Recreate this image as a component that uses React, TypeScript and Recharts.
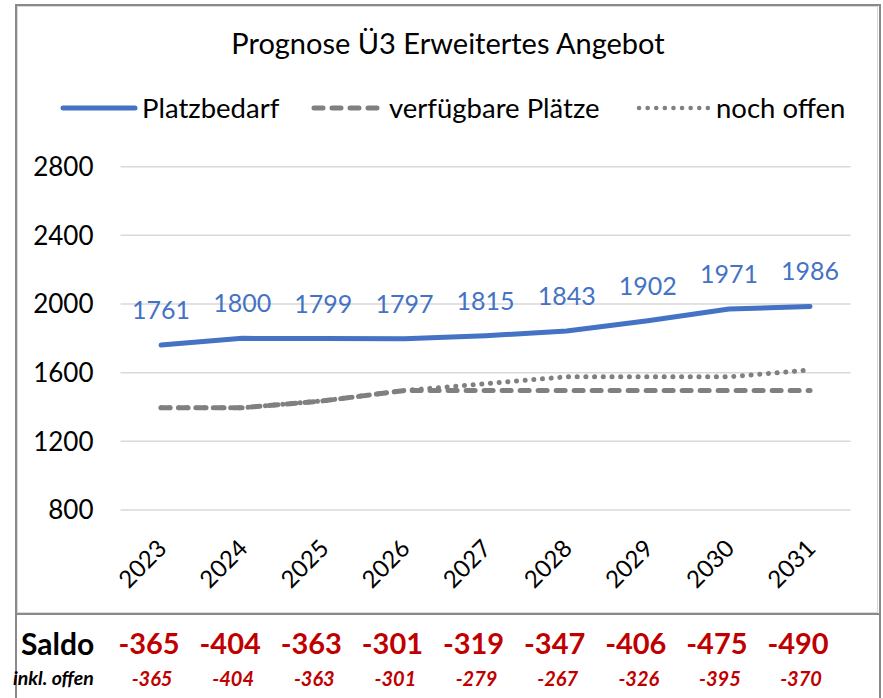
import { LineChart, Line, XAxis, YAxis, CartesianGrid, LabelList } from "recharts";

const years = ["2023", "2024", "2025", "2026", "2027", "2028", "2029", "2030", "2031"];
const platzbedarf = [1761, 1800, 1799, 1797, 1815, 1843, 1902, 1971, 1986];
const verfuegbar = [1396, 1396, 1436, 1496, 1496, 1496, 1496, 1496, 1496];
const nochOffen = [1396, 1396, 1436, 1496, 1536, 1576, 1576, 1576, 1616];
const saldo = [-365, -404, -363, -301, -319, -347, -406, -475, -490];
const saldoOffen = [-365, -404, -363, -301, -279, -267, -326, -395, -370];
const yTicks = [800, 1200, 1600, 2000, 2400, 2800];

const data = years.map((year, i) => ({
  year,
  bedarf: platzbedarf[i],
  plaetze: verfuegbar[i],
  offen: nochOffen[i],
}));

const BLUE = "#4472C4";
const GRAY = "#808080";
const RED = "#C00000";
const FONT = "Lato, 'Open Sans', sans-serif";

// plot box in page pixels
const PLOT_LEFT = 120.5;
const PLOT_RIGHT = 850.6;
const step = (PLOT_RIGHT - PLOT_LEFT) / years.length;
const colX = (i: number) => PLOT_LEFT + step * (i + 0.5);

function YearTick(props: any) {
  const { x, y, payload } = props;
  const ax = x + 7;
  const ay = y + 32;
  return (
    <text x={ax} y={ay} fill="#000" fontSize={24} textAnchor="end" transform={`rotate(-45, ${ax}, ${ay})`}>
      {payload.value}
    </text>
  );
}

function LegendItem({ kind, label, left, width }: { kind: string; label: string; left: number; width: number }) {
  const dash = kind === "dash" ? "9 9" : kind === "dot" ? "0.1 8.5" : undefined;
  return (
    <div style={{ position: "absolute", left, top: 91, display: "flex", alignItems: "center" }}>
      <svg width={width} height={30}>
        <line
          x1={3}
          x2={width - 3}
          y1={15}
          y2={15}
          stroke={kind === "solid" ? BLUE : GRAY}
          strokeWidth={kind === "dot" ? 4.5 : 5}
          strokeDasharray={dash}
          strokeLinecap="round"
        />
      </svg>
      <span style={{ fontSize: 27.5, marginLeft: 4, color: "#000" }}>{label}</span>
    </div>
  );
}

export default function App() {
  return (
    <div style={{ position: "absolute", left: 0, top: 0, width: 883, height: 698, background: "#fff", fontFamily: FONT, overflow: "hidden" }}>
      {/* outer frame */}
      <div style={{ position: "absolute", left: 15, top: 4, width: 862, height: 720, borderLeft: "2px solid #8a8a8a", borderRight: "2px solid #8a8a8a", borderTop: "2px solid #8a8a8a" }} />
      <div style={{ position: "absolute", left: 17, top: 6, width: 861, height: 607, border: "1px solid #d9d9d9", boxSizing: "border-box" }} />
      <div style={{ position: "absolute", left: 15, top: 613, width: 866, height: 2, background: "#8a8a8a" }} />

      <div style={{ position: "absolute", left: 0, width: 896, top: 25, textAlign: "center", fontSize: 29, color: "#000" }}>
        Prognose Ü3 Erweitertes Angebot
      </div>

      <LegendItem kind="solid" label="Platzbedarf" left={60} width={78} />
      <LegendItem kind="dash" label="verfügbare Plätze" left={311} width={74} />
      <LegendItem kind="dot" label="noch offen" left={636} width={76} />

      <div style={{ position: "absolute", left: 0, top: 0 }}>
        <LineChart width={883} height={698} data={data} margin={{ top: 166.7, right: 883 - PLOT_RIGHT, bottom: 128, left: 0 }}>
          <CartesianGrid vertical={false} stroke="#d9d9d9" strokeWidth={1.5} />
          <XAxis
            dataKey="year"
            axisLine={false}
            tickLine={false}
            tick={<YearTick />}
            interval={0}
            height={60}
            padding={{ left: step / 2, right: step / 2 }}
          />
          <YAxis
            width={PLOT_LEFT}
            domain={[800, 2800]}
            ticks={yTicks}
            axisLine={false}
            tickLine={false}
            tickMargin={21}
            tick={{ fill: "#000", fontSize: 26 }}
          />
          <Line
            dataKey="plaetze"
            stroke={GRAY}
            strokeWidth={5}
            strokeDasharray="9 9"
            strokeLinecap="round"
            dot={false}
            isAnimationActive={false}
          />
          <Line
            dataKey="offen"
            stroke={GRAY}
            strokeWidth={5}
            strokeDasharray="0.1 8.6"
            strokeLinecap="round"
            dot={false}
            isAnimationActive={false}
          />
          <Line dataKey="bedarf" stroke={BLUE} strokeWidth={5} strokeLinecap="round" dot={false} isAnimationActive={false}>
            <LabelList dataKey="bedarf" position="top" offset={26} fill={BLUE} fontSize={25} />
          </Line>
        </LineChart>
      </div>

      <div style={{ position: "absolute", left: 21, top: 625, fontSize: 30, fontWeight: 700, color: "#000" }}>Saldo</div>
      {saldo.map((v, i) => (
        <div
          key={"s" + i}
          style={{ position: "absolute", left: colX(i) - 12 - 40, width: 80, top: 625, textAlign: "center", fontSize: 29, fontWeight: 700, color: RED }}
        >
          {v}
        </div>
      ))}
      <div style={{ position: "absolute", left: 13, top: 666, fontSize: 19.5, fontWeight: 700, fontStyle: "italic", color: "#000" }}>
        inkl. offen
      </div>
      {saldoOffen.map((v, i) => (
        <div
          key={"o" + i}
          style={{ position: "absolute", left: colX(i) - 9 - 40, width: 80, top: 666, textAlign: "center", fontSize: 20, fontWeight: 700, fontStyle: "italic", color: RED }}
        >
          {v}
        </div>
      ))}
    </div>
  );
}
